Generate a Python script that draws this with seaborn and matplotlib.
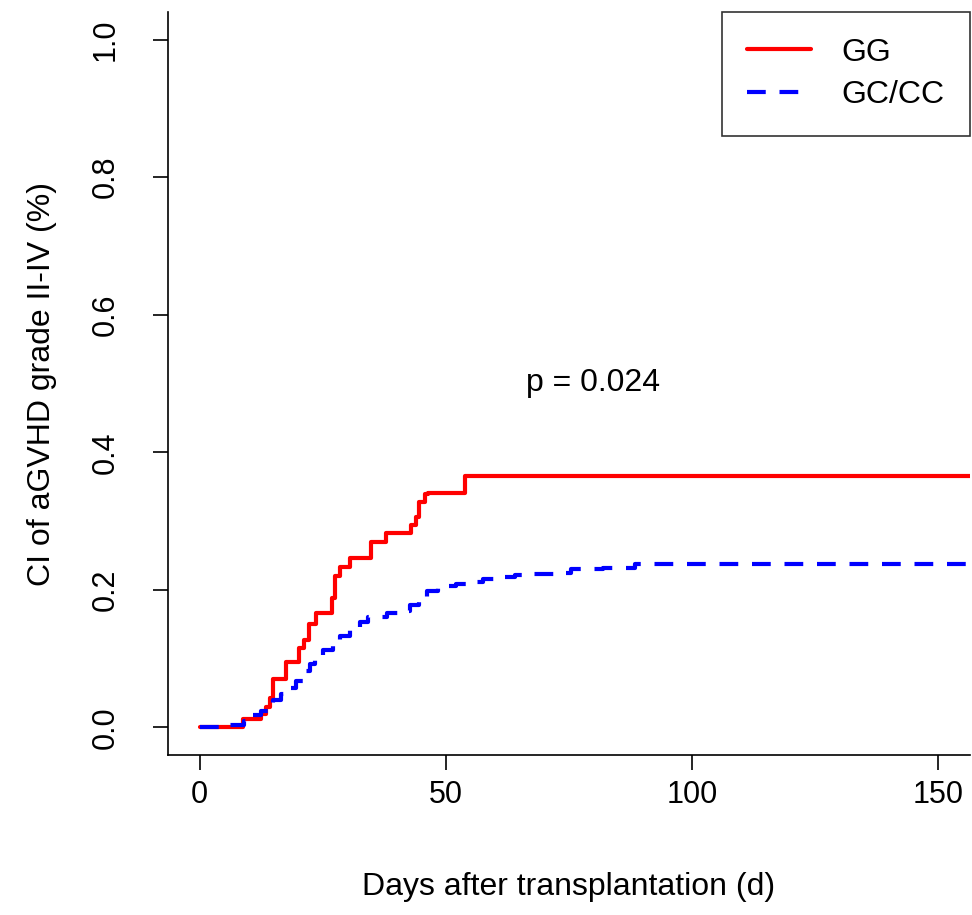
import pandas as pd
import matplotlib
matplotlib.use("Agg")
import matplotlib.pyplot as plt
import seaborn as sns

# cumulative incidence of aGVHD grade II-IV, step points
gg_days = [0, 8.8, 12.5, 13.6, 14.3, 14.9, 17.6, 20.3, 21.3, 22.3, 23.6, 27.0, 27.6,
           28.5, 30.5, 34.9, 37.8, 43.0, 43.9, 44.6, 45.7, 46.5, 54.0, 156.5]
gg_ci = [0, 0.013, 0.020, 0.030, 0.043, 0.070, 0.095, 0.115, 0.127, 0.151, 0.166,
         0.188, 0.220, 0.233, 0.246, 0.270, 0.283, 0.295, 0.306, 0.328, 0.339, 0.341,
         0.365, 0.365]

gc_days = [0, 6, 9, 10.5, 12.5, 14, 15, 16.5, 18, 19.5, 21, 22.5, 23.5, 25, 27.2,
           28.5, 30.5, 32.5, 34.3, 38, 40.5, 42.7, 44.5, 46.3, 48.5, 52, 55, 57.5, 61,
           64, 67, 73, 75.5, 82, 88.4, 156.5]
gc_ci = [0, 0.004, 0.010, 0.018, 0.024, 0.032, 0.040, 0.048, 0.058, 0.068, 0.082,
         0.093, 0.104, 0.112, 0.118, 0.133, 0.142, 0.153, 0.161, 0.166, 0.170, 0.178,
         0.186, 0.198, 0.205, 0.209, 0.212, 0.216, 0.219, 0.221, 0.223, 0.224, 0.230,
         0.232, 0.238, 0.238]

groups = ["GG", "GC/CC"]
p_text = "p = 0.024"

df = pd.concat([
    pd.DataFrame({"day": gg_days, "ci": gg_ci, "group": "GG"}),
    pd.DataFrame({"day": gc_days, "ci": gc_ci, "group": "GC/CC"}),
])

sns.set_style("ticks")
plt.rcParams["font.family"] = ["Liberation Sans", "DejaVu Sans"]
plt.rcParams["text.color"] = "black"
plt.rcParams["axes.labelcolor"] = "black"

fig = plt.figure(figsize=(9.72, 9.15), dpi=100)
ax = fig.add_axes([168 / 972, 1 - 755 / 915, 802 / 972, 743 / 915])

sns.lineplot(data=df, x="day", y="ci", hue="group", style="group",
             palette={"GG": "#ff0000", "GC/CC": "#0000ff"},
             dashes={"GG": "", "GC/CC": (4.5, 3.3)},
             drawstyle="steps-post", estimator=None, sort=False,
             linewidth=3, ax=ax)

ax.set_xlim(-6.4, 156.5)
ax.set_ylim(-0.04, 1.04)
ax.set_xticks([0, 50, 100, 150])
ax.set_yticks([0, 0.2, 0.4, 0.6, 0.8, 1.0])
ax.set_yticklabels(["0.0", "0.2", "0.4", "0.6", "0.8", "1.0"], rotation=90, va="center")
ax.tick_params(axis="both", direction="out", length=11, width=1.2, labelsize=22, colors="black")
ax.tick_params(axis="x", pad=7)
ax.tick_params(axis="y", pad=23)
for s in ["top", "right"]:
    ax.spines[s].set_visible(False)
for s in ["left", "bottom"]:
    ax.spines[s].set_linewidth(1.2)
    ax.spines[s].set_color("black")

ax.set_xlabel("Days after transplantation (d)", fontsize=23, labelpad=45)
ax.set_ylabel("CI of aGVHD grade II-IV (%)", fontsize=23, labelpad=24)

ax.text(80, 0.5, p_text, fontsize=23, ha="center", va="center")

handles, labels = ax.get_legend_handles_labels()
leg = ax.legend(handles, groups, loc="upper right", fontsize=23, frameon=True,
                fancybox=False, edgecolor="black", handlelength=2.0,
                borderpad=0.8, labelspacing=0.4, handletextpad=0.95,
                borderaxespad=0.0)
leg.get_frame().set_linewidth(1.2)
for line in leg.get_lines():
    line.set_linewidth(3)

fig.savefig("out.png", dpi=100)
